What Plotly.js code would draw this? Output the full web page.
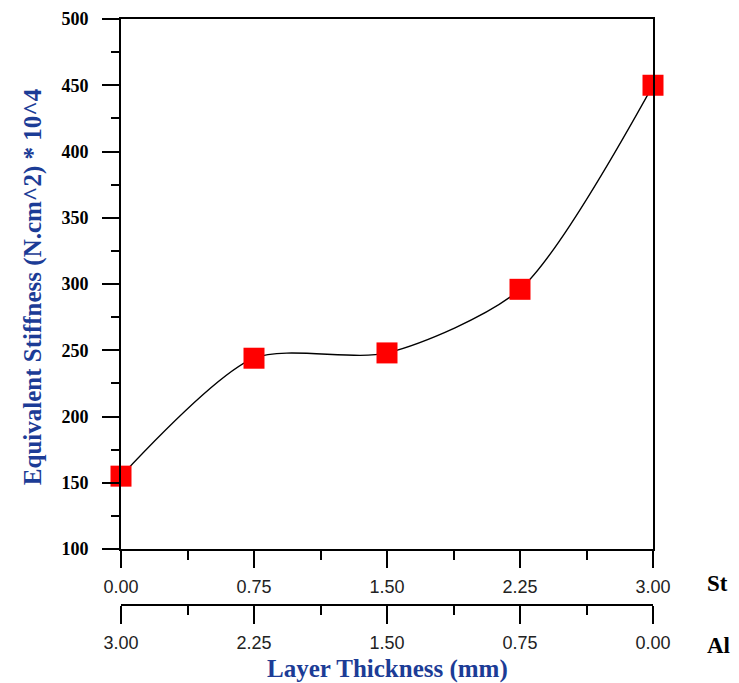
<!DOCTYPE html>
<html>
<head>
<meta charset="utf-8">
<script src="https://cdn.plot.ly/plotly-3.0.1.min.js"></script>
<style>html,body{margin:0;padding:0;background:#fff;}#chart{width:739px;height:683px;}</style>
</head>
<body>
<div id="chart"></div>
<script>
// Data
const stThickness = [0.00, 0.75, 1.50, 2.25, 3.00];
const alThickness = [3.00, 2.25, 1.50, 0.75, 0.00];
const stiffness = [155, 244, 248, 296, 450];
const xTickVals = [0, 0.75, 1.5, 2.25, 3.0];
const xTickText = ['0.00', '0.75', '1.50', '2.25', '3.00'];
const yTickVals = [100, 150, 200, 250, 300, 350, 400, 450, 500];

const traces = [
  {
    x: stThickness, y: stiffness, type: 'scatter', mode: 'lines+markers',
    line: {shape: 'spline', smoothing: 0.75, color: '#000', width: 1.4},
    marker: {symbol: 'square', size: 21, color: '#ff0000'},
    cliponaxis: false,
    xaxis: 'x', yaxis: 'y', hoverinfo: 'x+y'
  },
  {
    x: alThickness, y: stiffness, type: 'scatter', mode: 'markers',
    marker: {opacity: 0}, xaxis: 'x2', yaxis: 'y', hoverinfo: 'skip', showlegend: false
  }
];

const tickFontX = {family: 'Liberation Sans, Arial, sans-serif', size: 18, color: '#222'};
const serif = 'Liberation Serif, Times New Roman, serif';
const layout = {
  width: 739, height: 683,
  margin: {l: 121, r: 86, t: 19, b: 30},
  paper_bgcolor: '#fff', plot_bgcolor: '#fff',
  showlegend: false,
  xaxis: {
    range: [0, 3], tickvals: xTickVals, ticktext: xTickText,
    ticks: 'outside', ticklen: 17, tickwidth: 2, tickcolor: '#000',
    minor: {tickvals: [0.375, 1.125, 1.875, 2.625], ticks: 'outside', ticklen: 9, tickwidth: 2, tickcolor: '#000', showgrid: false},
    showline: true, linewidth: 2, linecolor: '#000', mirror: true,
    showgrid: false, zeroline: false, tickfont: tickFontX, ticklabelstandoff: 3,
    anchor: 'y'
  },
  xaxis2: {
    overlaying: 'x', anchor: 'free', position: 0.0757, side: 'bottom',
    range: [3, 0], tickvals: xTickVals, ticktext: xTickText,
    ticks: 'outside', ticklen: 18, tickwidth: 2, tickcolor: '#000',
    minor: {tickvals: [0.375, 1.125, 1.875, 2.625], ticks: 'outside', ticklen: 9, tickwidth: 2, tickcolor: '#000', showgrid: false},
    showline: true, linewidth: 2, linecolor: '#000',
    showgrid: false, zeroline: false, tickfont: tickFontX, ticklabelstandoff: 3
  },
  yaxis: {
    domain: [0.164, 1], range: [100, 500], tickvals: yTickVals,
    ticks: 'outside', ticklen: 17, tickwidth: 2, tickcolor: '#000',
    minor: {dtick: 25, ticks: 'outside', ticklen: 8, tickwidth: 2, tickcolor: '#000', showgrid: false},
    showline: true, linewidth: 2, linecolor: '#000', mirror: true,
    showgrid: false, zeroline: false, ticklabelstandoff: 10,
    tickfont: {family: serif, size: 18, color: '#000', weight: 'bold'}
  },
  annotations: [
    {text: 'Equivalent Stiffness (N.cm^2) * 10^4', xref: 'paper', yref: 'paper', x: 0, y: 0.577,
     xshift: -88, textangle: -90, showarrow: false, xanchor: 'center', yanchor: 'middle',
     font: {family: serif, size: 25, color: '#1c3c96', weight: 'bold'}},
    {text: 'Layer Thickness (mm)', xref: 'paper', yref: 'paper', x: 0.5, y: 0, yshift: -16,
     showarrow: false, xanchor: 'center', yanchor: 'middle',
     font: {family: serif, size: 25, color: '#1c3c96', weight: 'bold'}},
    {text: 'St', xref: 'paper', yref: 'paper', x: 1, y: 0.164, xshift: 52, yshift: -34,
     showarrow: false, xanchor: 'left', yanchor: 'middle',
     font: {family: serif, size: 23, color: '#000', weight: 'bold'}},
    {text: 'Al', xref: 'paper', yref: 'paper', x: 1, y: 0.0757, xshift: 52, yshift: -40,
     showarrow: false, xanchor: 'left', yanchor: 'middle',
     font: {family: serif, size: 23, color: '#000', weight: 'bold'}}
  ]
};

Plotly.newPlot('chart', traces, layout, {displayModeBar: false, staticPlot: true});
</script>
</body>
</html>
